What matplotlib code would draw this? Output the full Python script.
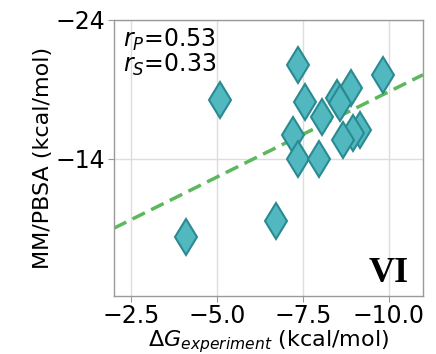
import matplotlib
matplotlib.use("Agg")
import matplotlib.pyplot as plt
import numpy as np

# experimental vs MM/PBSA binding free energies (kcal/mol)
dg_exp = [-7.35, -5.08, -9.83, -8.92, -8.49, -8.59, -7.57, -8.05,
          -7.21, -9.17, -8.97, -8.68, -7.35, -7.96, -6.72, -4.09]
dg_mmpbsa = [-20.75, -18.23, -20.03, -19.07, -18.35, -17.99, -18.11, -17.03,
             -15.71, -16.07, -15.83, -15.35, -13.95, -13.95, -9.53, -8.33]

# linear fit shown as dashed line
fit_slope = 1.229
fit_intercept = -6.52
r_pearson = 0.53
r_spearman = 0.33

fig = plt.figure(figsize=(4.36, 3.54), dpi=100)
ax = fig.add_axes([0.261, 0.164, 0.709, 0.780])

ax.grid(True, color="#dddddd", linewidth=1.0, zorder=0)

xs = np.array([-2.0, -11.0])
ax.plot(xs, fit_slope * xs + fit_intercept, color="#5cb85c", linestyle="--",
        linewidth=2.5, dashes=(4, 2), zorder=2)

ax.plot(dg_exp, dg_mmpbsa, linestyle="none", marker="d", markersize=18,
        markerfacecolor="#52b8c0", markeredgecolor="#2a8a92",
        markeredgewidth=1.5, zorder=3)

ax.set_xlim(-2.0, -11.0)
ax.set_ylim(-4.1, -24)
ax.set_xticks([-2.5, -5.0, -7.5, -10.0])
ax.set_yticks([-24, -14])
ax.tick_params(labelsize=17, length=4, color="#999999", width=0.8, pad=2)

for s in ax.spines.values():
    s.set_color("#999999")
    s.set_linewidth(1.0)

ax.set_xlabel(r"$\Delta G_{experiment}$ (kcal/mol)", fontsize=16, labelpad=0)
ax.set_ylabel("MM/PBSA (kcal/mol)", fontsize=16, labelpad=2)

ax.text(0.03, 0.975, "$r_P$=%.2f\n$r_S$=%.2f" % (r_pearson, r_spearman),
        transform=ax.transAxes, fontsize=17, va="top", ha="left",
        linespacing=0.95)
ax.text(0.955, 0.05, "VI", transform=ax.transAxes, fontsize=26,
        fontweight="bold", family="Liberation Serif", ha="right", va="baseline")

fig.savefig("out.png", dpi=100)
